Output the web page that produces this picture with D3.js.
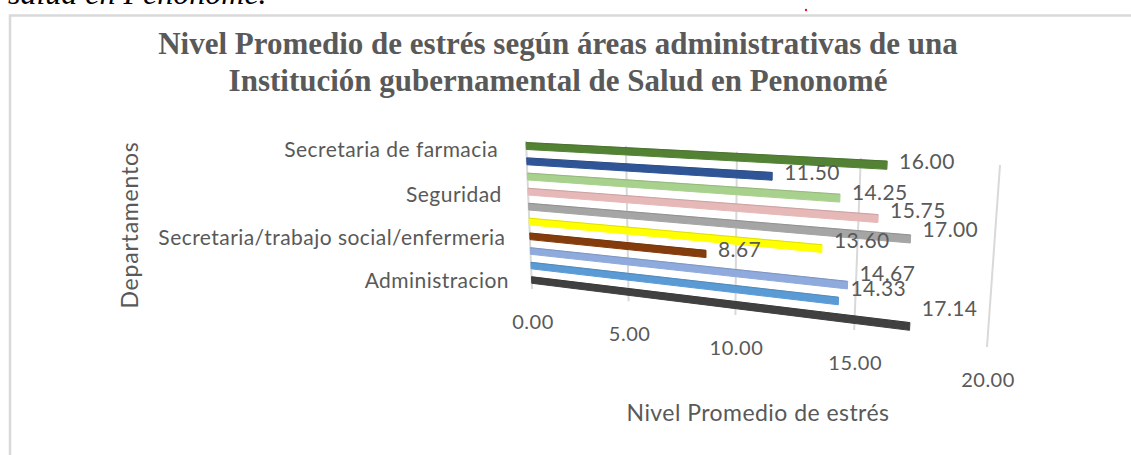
<!DOCTYPE html>
<html>
<head>
<meta charset="utf-8">
<script src="https://cdn.jsdelivr.net/npm/d3@7"></script>
<style>
  html, body { margin: 0; padding: 0; background: #fff; overflow: hidden; }
</style>
</head>
<body>
<div id="chart"></div>
<script>
// row order is bottom to top, only every third name shows on the axis
const categories = ['Administracion', 'b', 'c', 'Secretaria/trabajo social/enfermeria', 'e', 'f', 'Seguridad', 'h', 'i', 'Secretaria de farmacia'];
const values = [17.14, 14.33, 14.67, 8.67, 13.60, 17.00, 15.75, 14.25, 11.50, 16.00];
const barColors = ['#404040', '#5b9bd5', '#8faadc', '#843c0c', '#ffff00', '#a5a5a5', '#e6b9b8', '#a9d18e', '#2f5597', '#548235'];
const valueTicks = [0, 5, 10, 15, 20];
const titleLines = ['Nivel Promedio de estrés según áreas administrativas de una', 'Institución gubernamental de Salud en Penonomé'];

const width = 1131, height = 455;
const svg = d3.select('#chart').append('svg').attr('width', width).attr('height', height);
const font = 'Lato, sans-serif';

// corners of the tilted plot floor: [x, y] on screen
const corners = { tl: [526, 141], tr: [1000, 165], bl: [532, 289], br: [987, 347] };

// homography from the unit square to the floor
function makeProjection(c) {
  const [x0, y0] = c.tl, [x1, y1] = c.tr, [x2, y2] = c.br, [x3, y3] = c.bl;
  const dx1 = x1 - x2, dx2 = x3 - x2, sx = x0 - x1 + x2 - x3;
  const dy1 = y1 - y2, dy2 = y3 - y2, sy = y0 - y1 + y2 - y3;
  const den = dx1 * dy2 - dx2 * dy1;
  const g = (sx * dy2 - dx2 * sy) / den, h = (dx1 * sy - sx * dy1) / den;
  const a = x1 - x0 + g * x1, b = x3 - x0 + h * x3;
  const d = y1 - y0 + g * y1, e = y3 - y0 + h * y3;
  return (u, v) => {
    const q = g * u + h * v + 1;
    return [(a * u + b * v + x0) / q, (d * u + e * v + y0) / q];
  };
}
const project = makeProjection(corners);

const x = d3.scaleLinear().domain([0, 20]).range([0, 1]);
const y = d3.scaleBand().domain(categories).range([0.97, 0]).paddingInner(0.55).paddingOuter(0.1);
const line = d3.line();

// page frame, the crop has no right or bottom edge
svg.append('path').attr('d', 'M10,455V15.5H1131').attr('fill', 'none').attr('stroke', '#d9d9d9').attr('stroke-width', 2.5);

svg.append('text').attr('x', 8).attr('y', 4)
  .attr('font-family', 'Liberation Serif').attr('font-style', 'italic').attr('font-size', 32)
  .attr('fill', '#000').text('salud en Penonomé.');
svg.append('circle').attr('cx', 806).attr('cy', 10).attr('r', 1.2).attr('fill', '#f01030');

const title = svg.append('g').attr('font-family', 'Liberation Serif').attr('font-weight', 'bold')
  .attr('font-size', 31).attr('fill', '#595959').attr('text-anchor', 'middle');
titleLines.forEach((t, i) => title.append('text').attr('x', 558).attr('y', 54 + i * 36.5).text(t));

// gridlines
svg.append('g').selectAll('path').data(valueTicks).join('path')
  .attr('d', d => line([project(x(d), 0), project(x(d), 1)]))
  .attr('fill', 'none').attr('stroke', '#d9d9d9').attr('stroke-width', 2);

// bars with a darker upper edge for the 3d look
const barH = y.bandwidth();
const bars = svg.append('g').selectAll('g').data(values).join('g');
bars.append('path')
  .attr('d', (d, i) => {
    const w = y(categories[i]);
    return line([project(0, w), project(x(d), w), project(x(d), w + barH), project(0, w + barH)]) + 'Z';
  })
  .attr('fill', (d, i) => barColors[i])
  .attr('stroke', (d, i) => barColors[i]).attr('stroke-linejoin', 'round').attr('stroke-width', 1);
bars.append('path')
  .attr('d', (d, i) => {
    const w = y(categories[i]);
    return line([project(0, w), project(x(d), w)]);
  })
  .attr('fill', 'none').attr('stroke', (d, i) => d3.color(barColors[i]).darker(0.8)).attr('stroke-opacity', 0.5);

// value labels sit higher the longer and lower the bar is
const labels = svg.append('g').attr('font-family', font).attr('font-size', 21).attr('letter-spacing', 0.4).attr('fill', '#595959');
const labelLift = (d, i) => -1 + 1.6 * (1 - i / 9) * Math.max(d - 8, 0);
labels.selectAll('text').data(values).join('text')
  .attr('x', (d, i) => project(x(d), y(categories[i]) + barH / 2)[0] + 12)
  .attr('y', (d, i) => project(x(d), y(categories[i]) + barH / 2)[1] + 3 - labelLift(d, i))
  .text(d => d.toFixed(2));

// category labels, every third
svg.append('g').attr('font-family', font).attr('font-size', 21).attr('letter-spacing', 0.45).attr('fill', '#595959').attr('text-anchor', 'end')
  .selectAll('text').data(categories.filter((d, i) => i % 3 === 0)).join('text')
  .attr('x', d => project(0, y(d))[0] - 25 + (y(d) - 0.5) * 6)
  .attr('y', d => project(0, y(d) + barH / 2)[1] + 11 - y(d) * 3)
  .text(d => d);

// value axis labels
svg.append('g').attr('font-family', font).attr('font-size', 20).attr('letter-spacing', 0.5).attr('fill', '#595959').attr('text-anchor', 'middle')
  .selectAll('text').data(valueTicks).join('text')
  .attr('x', d => project(x(d), 1)[0] + 1)
  .attr('y', d => project(x(d), 1)[1] + 40)
  .text(d => d.toFixed(2));

svg.append('text').attr('x', 758).attr('y', 421).attr('text-anchor', 'middle')
  .attr('font-family', font).attr('font-size', 23).attr('letter-spacing', 0.45).attr('fill', '#595959').text('Nivel Promedio de estrés');
svg.append('text').attr('transform', 'translate(138,225) rotate(-90)').attr('text-anchor', 'middle')
  .attr('font-family', font).attr('font-size', 23).attr('letter-spacing', 0.8).attr('fill', '#595959').text('Departamentos');
</script>
</body>
</html>
